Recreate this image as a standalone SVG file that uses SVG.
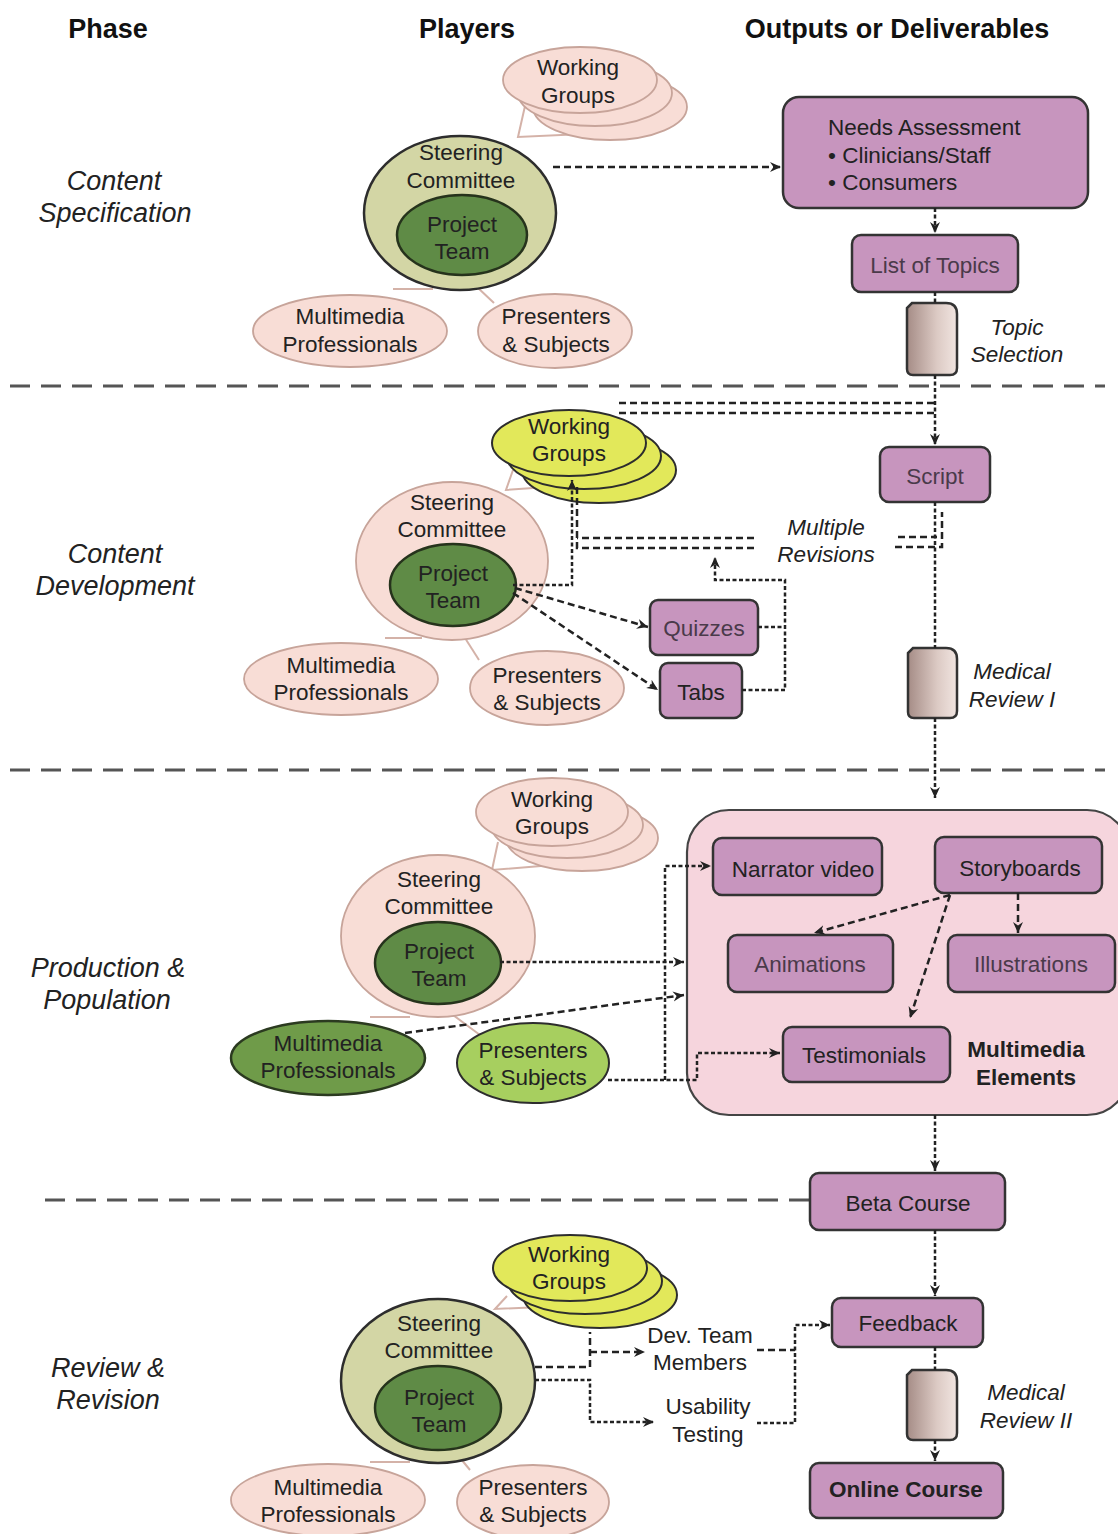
<svg xmlns="http://www.w3.org/2000/svg" width="1118" height="1534" viewBox="0 0 1118 1534">
<defs>
<style>
.t{font-family:"Liberation Sans",Arial,sans-serif;font-size:22.5px;fill:#222;text-anchor:middle}
.g{fill:#4a3a4a}
.h{font-weight:bold;font-size:27px;fill:#111}
.ph{font-style:italic;font-size:27px}
.it{font-style:italic}
.b{font-weight:bold}
.pk{fill:#f8ddd6;stroke:#c7a49a;stroke-width:1.8}
.ol{fill:#d3d6a5;stroke:#2d2d2d;stroke-width:2.5}
.pt{fill:#5f8b46;stroke:#26331c;stroke-width:2.5}
.yl{fill:#e2e85a;stroke:#2d2d2d;stroke-width:2}
.gm{fill:#6f9b49;stroke:#2b3a20;stroke-width:2.5}
.gl{fill:#a7cf5f;stroke:#2d2d2d;stroke-width:2}
.box{fill:#c795be;stroke:#333;stroke-width:2.5}
.cont{fill:#f6d5dd;stroke:#444;stroke-width:2.2}
.cyl{fill:url(#cg);stroke:#333;stroke-width:2.5}
.thin{fill:none;stroke:#d4b2a8;stroke-width:2}
.dash{fill:none;stroke:#222;stroke-width:2.5;stroke-dasharray:7 4}
.dot{fill:none;stroke:#222;stroke-width:2.5;stroke-dasharray:4 2.5}
.sep{stroke:#555;stroke-width:3;stroke-dasharray:20 11}
</style>
<linearGradient id="cg" x1="0" y1="0" x2="1" y2="0">
<stop offset="0" stop-color="#a58c86"/>
<stop offset="0.6" stop-color="#dccac4"/>
<stop offset="1" stop-color="#f1e5e1"/>
</linearGradient>
<marker id="ar" markerWidth="12" markerHeight="12" refX="11" refY="6" orient="auto" markerUnits="userSpaceOnUse">
<path d="M0,1 L11,6 L0,11 L3.5,6 Z" fill="#222"/>
</marker>
</defs>
<rect width="1118" height="1534" fill="#fff"/>

<g id="headers">
<text class="t h" x="108" y="38">Phase</text>
<text class="t h" x="467" y="38">Players</text>
<text class="t h" x="897" y="38">Outputs or Deliverables</text>
</g>

<g id="phases">
<text class="t ph" x="114" y="190">Content</text>
<text class="t ph" x="115" y="222">Specification</text>
<text class="t ph" x="115" y="563">Content</text>
<text class="t ph" x="115" y="595">Development</text>
<text class="t ph" x="108" y="977">Production &amp;</text>
<text class="t ph" x="107" y="1009">Population</text>
<text class="t ph" x="108" y="1377">Review &amp;</text>
<text class="t ph" x="108" y="1409">Revision</text>
</g>

<g id="separators">
<line class="sep" x1="10" y1="386" x2="1105" y2="386"/>
<line class="sep" x1="10" y1="770" x2="1105" y2="770"/>
<line class="sep" x1="45" y1="1200" x2="810" y2="1200"/>
</g>

<g id="thin-links">
<polyline class="thin" points="525,106 518,137 605,133"/>
<line class="thin" x1="393" y1="289" x2="433" y2="289"/>
<line class="thin" x1="477" y1="287" x2="494" y2="303"/>
<polyline class="thin" points="513,470 506,490 590,484"/>
<line class="thin" x1="385" y1="638" x2="422" y2="638"/>
<line class="thin" x1="465" y1="638" x2="479" y2="660"/>
<polyline class="thin" points="498,842 492,870 553,865"/>
<line class="thin" x1="370" y1="1017" x2="410" y2="1017"/>
<line class="thin" x1="453" y1="1015" x2="480" y2="1035"/>
<polyline class="thin" points="507,1296 495,1309 585,1305"/>
<line class="thin" x1="370" y1="1462" x2="410" y2="1462"/>
<line class="thin" x1="452" y1="1448" x2="470" y2="1470"/>
</g>

<!-- Section 1 -->
<g id="wg1">
<ellipse class="pk" cx="610" cy="107" rx="77" ry="33"/>
<ellipse class="pk" cx="595" cy="93" rx="77" ry="33"/>
<ellipse class="pk" cx="580" cy="80" rx="77" ry="33"/>
<text class="t" x="578" y="75">Working</text>
<text class="t" x="578" y="103">Groups</text>
</g>
<g id="sc1">
<ellipse class="ol" cx="460" cy="213" rx="96" ry="77"/>
<text class="t" x="461" y="160">Steering</text>
<text class="t" x="461" y="188">Committee</text>
</g>
<g id="pt1">
<ellipse class="pt" cx="462" cy="235" rx="65" ry="40"/>
<text class="t" x="462" y="232">Project</text>
<text class="t" x="462" y="259">Team</text>
</g>
<g id="mp1">
<ellipse class="pk" cx="350" cy="331" rx="97" ry="36"/>
<text class="t" x="350" y="324">Multimedia</text>
<text class="t" x="350" y="352">Professionals</text>
</g>
<g id="ps1">
<ellipse class="pk" cx="555" cy="331" rx="77" ry="37"/>
<text class="t" x="556" y="324">Presenters</text>
<text class="t" x="556" y="352">&amp; Subjects</text>
</g>
<g id="needs">
<rect class="box" x="783" y="97" width="305" height="111" rx="16"/>
<text class="t" x="828" y="135" style="text-anchor:start">Needs Assessment</text>
<text class="t" x="828" y="163" style="text-anchor:start">• Clinicians/Staff</text>
<text class="t" x="828" y="190" style="text-anchor:start">• Consumers</text>
</g>
<g id="topics">
<rect class="box" x="852" y="235" width="166" height="57" rx="9"/>
<text class="t g" x="935" y="273">List of Topics</text>
</g>
<g id="topicsel">
<path class="cyl" d="M912,303 H946 Q957,303 957,314 V368 Q957,375 950,375 H913 Q907,375 907,369 V308 Z"/>
<text class="t it" x="1017" y="335">Topic</text>
<text class="t it" x="1017" y="362">Selection</text>
</g>

<!-- Section 2 -->
<g id="wg2">
<ellipse class="yl" cx="599" cy="470" rx="77" ry="33"/>
<ellipse class="yl" cx="584" cy="456" rx="77" ry="33"/>
<ellipse class="yl" cx="569" cy="443" rx="77" ry="33"/>
<text class="t" x="569" y="434">Working</text>
<text class="t" x="569" y="461">Groups</text>
</g>
<g id="sc2">
<ellipse class="pk" cx="452" cy="561" rx="96" ry="79"/>
<text class="t" x="452" y="510">Steering</text>
<text class="t" x="452" y="537">Committee</text>
</g>
<g id="pt2">
<ellipse class="pt" cx="453" cy="585" rx="63" ry="41"/>
<text class="t" x="453" y="581">Project</text>
<text class="t" x="453" y="608">Team</text>
</g>
<g id="mp2">
<ellipse class="pk" cx="341" cy="679" rx="97" ry="36"/>
<text class="t" x="341" y="673">Multimedia</text>
<text class="t" x="341" y="700">Professionals</text>
</g>
<g id="ps2">
<ellipse class="pk" cx="547" cy="688" rx="77" ry="37"/>
<text class="t" x="547" y="683">Presenters</text>
<text class="t" x="547" y="710">&amp; Subjects</text>
</g>
<g id="quizzes">
<rect class="box" x="650" y="600" width="108" height="55" rx="8"/>
<text class="t g" x="704" y="636">Quizzes</text>
</g>
<g id="tabs">
<rect class="box" x="660" y="663" width="82" height="55" rx="8"/>
<text class="t" x="701" y="700">Tabs</text>
</g>
<g id="script">
<rect class="box" x="880" y="447" width="110" height="55" rx="9"/>
<text class="t g" x="935" y="484">Script</text>
</g>
<g id="revisions">
<text class="t it" x="826" y="535">Multiple</text>
<text class="t it" x="826" y="562">Revisions</text>
</g>
<g id="mr1">
<path class="cyl" d="M913,648 H946 Q957,648 957,659 V711 Q957,718 950,718 H914 Q908,718 908,712 V653 Z"/>
<text class="t it" x="1012" y="679">Medical</text>
<text class="t it" x="1012" y="707">Review I</text>
</g>

<!-- Section 3 -->
<g id="wg3">
<ellipse class="pk" cx="582" cy="838" rx="76" ry="33"/>
<ellipse class="pk" cx="567" cy="825" rx="76" ry="33"/>
<ellipse class="pk" cx="552" cy="812" rx="76" ry="34"/>
<text class="t" x="552" y="807">Working</text>
<text class="t" x="552" y="834">Groups</text>
</g>
<g id="sc3">
<ellipse class="pk" cx="438" cy="936" rx="97" ry="81"/>
<text class="t" x="439" y="887">Steering</text>
<text class="t" x="439" y="914">Committee</text>
</g>
<g id="pt3">
<ellipse class="pt" cx="438" cy="963" rx="63" ry="41"/>
<text class="t" x="439" y="959">Project</text>
<text class="t" x="439" y="986">Team</text>
</g>
<g id="mp3">
<ellipse class="gm" cx="328" cy="1058" rx="97" ry="37"/>
<text class="t" x="328" y="1051">Multimedia</text>
<text class="t" x="328" y="1078">Professionals</text>
</g>
<g id="ps3">
<ellipse class="gl" cx="533" cy="1063" rx="76" ry="40"/>
<text class="t" x="533" y="1058">Presenters</text>
<text class="t" x="533" y="1085">&amp; Subjects</text>
</g>
<g id="multimedia">
<rect class="cont" x="687" y="810" width="442" height="305" rx="42"/>
<text class="t b" x="1026" y="1057">Multimedia</text>
<text class="t b" x="1026" y="1085">Elements</text>
</g>
<g id="narrator">
<rect class="box" x="713" y="838" width="169" height="57" rx="9"/>
<text class="t" x="803" y="877">Narrator video</text>
</g>
<g id="storyboards">
<rect class="box" x="935" y="837" width="167" height="56" rx="9"/>
<text class="t" x="1020" y="876">Storyboards</text>
</g>
<g id="animations">
<rect class="box" x="728" y="935" width="165" height="57" rx="9"/>
<text class="t g" x="810" y="972">Animations</text>
</g>
<g id="illustrations">
<rect class="box" x="948" y="935" width="167" height="57" rx="9"/>
<text class="t g" x="1031" y="972">Illustrations</text>
</g>
<g id="testimonials">
<rect class="box" x="783" y="1027" width="167" height="55" rx="9"/>
<text class="t" x="864" y="1063">Testimonials</text>
</g>

<!-- Section 4 -->
<g id="beta">
<rect class="box" x="810" y="1173" width="195" height="57" rx="9"/>
<text class="t" x="908" y="1211">Beta Course</text>
</g>
<g id="wg4">
<ellipse class="yl" cx="600" cy="1295" rx="77" ry="33"/>
<ellipse class="yl" cx="585" cy="1281" rx="77" ry="33"/>
<ellipse class="yl" cx="570" cy="1268" rx="77" ry="33"/>
<text class="t" x="569" y="1262">Working</text>
<text class="t" x="569" y="1289">Groups</text>
</g>
<g id="sc4">
<ellipse class="ol" cx="438" cy="1381" rx="97" ry="82"/>
<text class="t" x="439" y="1331">Steering</text>
<text class="t" x="439" y="1358">Committee</text>
</g>
<g id="pt4">
<ellipse class="pt" cx="438" cy="1408" rx="63" ry="42"/>
<text class="t" x="439" y="1405">Project</text>
<text class="t" x="439" y="1432">Team</text>
</g>
<g id="mp4">
<ellipse class="pk" cx="328" cy="1500" rx="97" ry="36"/>
<text class="t" x="328" y="1495">Multimedia</text>
<text class="t" x="328" y="1522">Professionals</text>
</g>
<g id="ps4">
<ellipse class="pk" cx="533" cy="1502" rx="76" ry="37"/>
<text class="t" x="533" y="1495">Presenters</text>
<text class="t" x="533" y="1522">&amp; Subjects</text>
</g>
<g id="devteam">
<text class="t" x="700" y="1343">Dev. Team</text>
<text class="t" x="700" y="1370">Members</text>
</g>
<g id="usability">
<text class="t" x="708" y="1414">Usability</text>
<text class="t" x="708" y="1442">Testing</text>
</g>
<g id="feedback">
<rect class="box" x="832" y="1298" width="151" height="49" rx="9"/>
<text class="t" x="908" y="1331">Feedback</text>
</g>
<g id="mr2">
<path class="cyl" d="M912,1370 H946 Q957,1370 957,1381 V1433 Q957,1440 950,1440 H913 Q907,1440 907,1434 V1375 Z"/>
<text class="t it" x="1026" y="1400">Medical</text>
<text class="t it" x="1026" y="1428">Review II</text>
</g>
<g id="online">
<rect class="box" x="810" y="1463" width="193" height="55" rx="9"/>
<text class="t b" x="906" y="1497">Online Course</text>
</g>

<g id="connectors">
<path class="dash" d="M553,167 H781" marker-end="url(#ar)"/>
<path class="dot" d="M935,208 V233" marker-end="url(#ar)"/>
<path class="dot" d="M935,292 V303"/>
<path class="dot" d="M935,375 V445" marker-end="url(#ar)"/>
<path class="dash" d="M619,403 H935"/>
<path class="dash" d="M619,413 H935"/>
<path class="dot" d="M513,585 H572 V480" marker-end="url(#ar)"/>
<path class="dash" d="M754,538 H577"/>
<path class="dash" d="M754,548 H577 V484"/>
<path class="dash" d="M898,537 H937"/>
<path class="dash" d="M895,547 H942 V512"/>
<path class="dot" d="M935,502 V648"/>
<path class="dash" d="M515,588 L648,627" marker-end="url(#ar)"/>
<path class="dash" d="M513,593 L658,690" marker-end="url(#ar)"/>
<path class="dot" d="M758,627 H785"/>
<path class="dot" d="M742,690 H785 V580 H715 V557" marker-end="url(#ar)"/>
<path class="dot" d="M935,718 V798" marker-end="url(#ar)"/>
<path class="dot" d="M500,962 H684" marker-end="url(#ar)"/>
<path class="dash" d="M405,1033 L684,995" marker-end="url(#ar)"/>
<path class="dot" d="M608,1080 H697 V1053 H780" marker-end="url(#ar)"/>
<path class="dot" d="M665,1080 V866 H711" marker-end="url(#ar)"/>
<path class="dash" d="M950,895 L814,933" marker-end="url(#ar)"/>
<path class="dash" d="M950,895 L910,1018" marker-end="url(#ar)"/>
<path class="dash" d="M1018,893 V933" marker-end="url(#ar)"/>
<path class="dot" d="M935,1115 V1171" marker-end="url(#ar)"/>
<path class="dot" d="M935,1230 V1296" marker-end="url(#ar)"/>
<path class="dot" d="M935,1347 V1370"/>
<path class="dot" d="M935,1440 V1461" marker-end="url(#ar)"/>
<path class="dash" d="M535,1367 H590 V1332"/>
<path class="dash" d="M590,1352 H645" marker-end="url(#ar)"/>
<path class="dot" d="M535,1380 H590 V1422 H654" marker-end="url(#ar)"/>
<path class="dash" d="M757,1350 H795"/>
<path class="dot" d="M757,1423 H795 V1325 H830" marker-end="url(#ar)"/>
</g>
</svg>
